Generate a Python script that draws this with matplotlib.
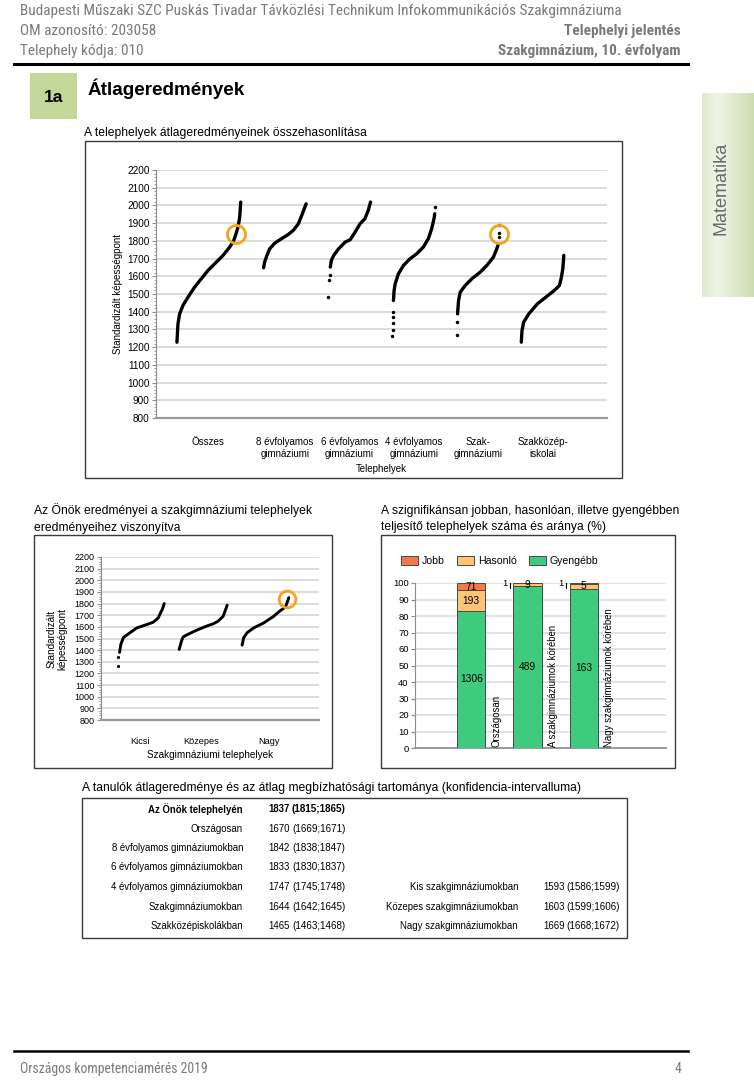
import numpy as np
import matplotlib
matplotlib.use('Agg')
import matplotlib.pyplot as plt
from matplotlib import font_manager
from matplotlib.patches import Rectangle, Patch
from matplotlib.ticker import MultipleLocator

W, H = 754, 1080
names = {f.name for f in font_manager.fontManager.ttflist}
FONT = 'Liberation Sans' if 'Liberation Sans' in names else 'DejaVu Sans'
NARROW = FONT
for cand in ['Liberation Sans Narrow', 'Arial Narrow', 'Roboto Condensed', 'Open Sans Condensed']:
    if cand in names:
        NARROW = cand
        break
HAS_NARROW = NARROW != FONT
plt.rcParams['font.family'] = [FONT, 'DejaVu Sans']

# ---------------- data ----------------
header_school = "Budapesti Műszaki SZC Puskás Tivadar Távközlési Technikum Infokommunikációs Szakgimnáziuma"
header_om = "OM azonosító: 203058"
header_site = "Telephely kódja: 010"
header_report = "Telephelyi jelentés"
header_grade = "Szakgimnázium, 10. évfolyam"
section_no = "1a"
section_title = "Átlageredmények"
subject = "Matematika"
footer_left = "Országos kompetenciamérés 2019"
footer_page = "4"

site_score = 1837

top_title = "A telephelyek átlageredményeinek összehasonlítása"
top_categories = ['Összes', '8 évfolyamos\ngimnáziumi', '6 évfolyamos\ngimnáziumi',
                  '4 évfolyamos\ngimnáziumi', 'Szak-\ngimnáziumi', 'Szakközép-\niskolai']
yticks_score = list(range(800, 2201, 100))

# sorted site means per group: rank percentile -> score
osszes_rank = [0, 1.6, 4.2, 9.4, 17.3, 27.7, 38.2, 48.7, 61.8, 72.3, 82.7, 89.0, 92.1, 95.8, 98.4, 100]
osszes_vals = [1228, 1331, 1388, 1435, 1482, 1539, 1586, 1633, 1680, 1718, 1765, 1802, 1834, 1878, 1934, 2019]
evf8_rank = [0, 2.4, 7.9, 14.3, 26.2, 42.1, 57.9, 69.8, 81.7, 89.7, 100]
evf8_vals = [1648, 1680, 1718, 1755, 1787, 1812, 1836, 1859, 1896, 1944, 2009]
evf6_out_rank = [0, 2.3, 3.9]
evf6_out_vals = [1482, 1580, 1605]
evf6_rank = [5.4, 7.8, 13.2, 24.8, 40.3, 51.9, 63.6, 75.2, 86.8, 94.6, 100]
evf6_vals = [1652, 1689, 1718, 1755, 1793, 1806, 1849, 1896, 1925, 1972, 2019]
evf4_out_rank = [0, 0.5, 0.8, 1.0, 1.6, 100]
evf4_out_vals = [1262, 1294, 1335, 1369, 1397, 1991]
evf4_rank = [2.3, 3.9, 6.3, 14.1, 25.8, 41.4, 57.0, 72.7, 84.4, 92.2, 97.7, 99.5]
evf4_vals = [1463, 1520, 1557, 1614, 1661, 1699, 1727, 1765, 1812, 1868, 1925, 1953]
szak_out_rank = [0, 0.8, 98.8, 99.2, 100]
szak_out_vals = [1266, 1341, 1820, 1845, 1891]
szak_rank = [1.6, 3.9, 7.8, 19.5, 35.2, 54.7, 70.3, 85.9, 93.8, 97.7]
szak_vals = [1388, 1463, 1510, 1548, 1586, 1623, 1661, 1708, 1755, 1783]
szkoz_rank = [0, 1.6, 5.6, 17.6, 37.6, 57.6, 77.6, 89.6, 93.6, 97.6, 100]
szkoz_vals = [1228, 1294, 1341, 1388, 1444, 1482, 1520, 1548, 1586, 1642, 1718]

left_title = "Az Önök eredményei a szakgimnáziumi telephelyek\neredményeihez viszonyítva"
left_categories = ['Kicsi', 'Közepes', 'Nagy']
kicsi_out_rank = [0, 2.1]
kicsi_out_vals = [1264, 1343]
kicsi_rank = [4.3, 7.2, 12.8, 23.4, 41.3, 62.6, 76.6, 87.2, 90.8, 96.6, 100]
kicsi_vals = [1380, 1451, 1509, 1540, 1591, 1620, 1640, 1677, 1709, 1757, 1800]
kozepes_rank = [0, 5.0, 8.3, 18.8, 36.2, 57.0, 70.8, 81.3, 91.7, 95.2, 100]
kozepes_vals = [1406, 1480, 1514, 1537, 1571, 1606, 1626, 1649, 1691, 1729, 1786]
nagy_rank = [0, 3.4, 10.7, 24.9, 46.4, 67.8, 78.5, 92.9, 98.7, 100]
nagy_vals = [1443, 1506, 1549, 1591, 1634, 1691, 1729, 1771, 1834, 1851]

right_title = "A szignifikánsan jobban, hasonlóan, illetve gyengébben\nteljesítő telephelyek száma és aránya (%)"
bar_categories = ['Országosan', 'A szakgimnáziumok körében', 'Nagy szakgimnáziumok körében']
series_names = ['Jobb', 'Hasonló', 'Gyengébb']
jobb_counts = [71, 1, 1]
hasonlo_counts = [193, 9, 5]
gyengebb_counts = [1306, 489, 163]

table_title = "A tanulók átlageredménye és az átlag megbízhatósági tartománya (konfidencia-intervalluma)"
left_labels = ['Az Önök telephelyén', 'Országosan', '8 évfolyamos gimnáziumokban',
               '6 évfolyamos gimnáziumokban', '4 évfolyamos gimnáziumokban',
               'Szakgimnáziumokban', 'Szakközépiskolákban']
left_means = [1837, 1670, 1842, 1833, 1747, 1644, 1465]
left_lo = [1815, 1669, 1838, 1830, 1745, 1642, 1463]
left_hi = [1865, 1671, 1847, 1837, 1748, 1645, 1468]
right_labels = ['Kis szakgimnáziumokban', 'Közepes szakgimnáziumokban', 'Nagy szakgimnáziumokban']
right_means = [1593, 1603, 1669]
right_lo = [1586, 1599, 1668]
right_hi = [1599, 1606, 1672]

# ---------------- figure ----------------
fig = plt.figure(figsize=(W / 100, H / 100), dpi=100)
bg = fig.add_axes([0, 0, 1, 1], zorder=-5)
bg.set_xlim(0, W)
bg.set_ylim(H, 0)
bg.axis('off')


def add_ax(l, t, r, b):
    a = fig.add_axes([l / W, 1 - b / H, (r - l) / W, (b - t) / H])
    a.set_facecolor('none')
    return a


GRAY = '#7a7a7a'
FRAME = '#3a3a3a'
ORANGE = '#F4A31F'

# header
hfam = [NARROW, 'DejaVu Sans']
hs = 9.75
if HAS_NARROW:
    # calibrate the narrow font so the school name spans ~602 px
    from matplotlib.textpath import TextPath
    from matplotlib.font_manager import FontProperties
    tp = TextPath((0, 0), header_school, size=10, prop=FontProperties(family=NARROW))
    wpx = tp.get_extents().width * 100 / 72
    hs = 10 * 602 / wpx
bg.text(20, 11, header_school, fontsize=hs, color=GRAY, family=hfam, va='center')
bg.text(20, 31, header_om, fontsize=hs, color=GRAY, family=hfam, va='center')
bg.text(20, 51, header_site, fontsize=hs, color=GRAY, family=hfam, va='center')
bg.text(681, 31, header_report, fontsize=hs, color=GRAY, family=hfam, va='center', ha='right', fontweight='bold')
bg.text(681, 51, header_grade, fontsize=hs, color=GRAY, family=hfam, va='center', ha='right', fontweight='bold')
bg.plot([14, 688], [64, 64], color='black', lw=2.2)

# section box
bg.add_patch(Rectangle((30, 73), 47, 46, facecolor='#c4d79b', edgecolor='none'))
bg.text(53.5, 97, section_no, fontsize=12.5, fontweight='bold', ha='center', va='center')
bg.text(88, 89, section_title, fontsize=13.6, fontweight='bold', va='center')

# side tab with gradient
side = add_ax(702, 93, 754, 297)
grad = np.linspace(0, 1, 64)
c_left = np.array([0.87, 0.92, 0.81])
c_mid = np.array([0.94, 0.96, 0.90])
c_right = np.array([0.80, 0.87, 0.69])
cols = np.where(grad[:, None] < 0.3,
                c_left + (c_mid - c_left) * (grad[:, None] / 0.3),
                c_mid + (c_right - c_mid) * ((grad[:, None] - 0.3) / 0.7))
side.imshow(cols[None, :, :], aspect='auto', extent=[0, 1, 0, 1])
side.set_xlim(0, 1)
side.set_ylim(0, 1)
side.axis('off')
fig.text(721 / W, 1 - 188 / H, subject, fontsize=13, color='#6a6a6a', rotation=90,
         ha='center', va='center', zorder=10)

# ---------------- top chart ----------------
bg.text(84, 133, top_title, fontsize=8.7, va='center')
bg.add_patch(Rectangle((85, 141), 537, 337, facecolor='none', edgecolor=FRAME, lw=1))
ax1 = add_ax(156, 170, 607, 418)


def style_score_axis(ax, fs):
    ax.set_ylim(800, 2200)
    ax.set_yticks(yticks_score)
    ax.yaxis.set_minor_locator(MultipleLocator(20))
    ax.grid(axis='y', color='#dcdcdc', lw=1.4, zorder=0)
    for s in ['top', 'right']:
        ax.spines[s].set_visible(False)
    ax.spines['left'].set_color('#8c8c8c')
    ax.spines['bottom'].set_color('#9a9a9a')
    ax.spines['bottom'].set_linewidth(1.6)
    ax.tick_params(axis='y', which='major', length=3, width=0.8, color='#8c8c8c', labelsize=fs, pad=1.5)
    ax.tick_params(axis='y', which='minor', length=1.5, width=0.6, color='#8c8c8c')
    ax.tick_params(axis='x', length=0, labelsize=fs)
    ax.set_axisbelow(True)


def draw_group(ax, center, width, ranks, vals, out_ranks=(), out_vals=(), lw=2.4, ms=2.5):
    x = center + (np.asarray(ranks, float) / 100 - 0.5) * width
    ax.plot(x, vals, color='black', lw=lw, solid_capstyle='round', zorder=3)
    if len(out_ranks):
        xo = center + (np.asarray(out_ranks, float) / 100 - 0.5) * width
        ax.plot(xo, out_vals, 'o', ms=ms, color='black', mew=0, zorder=3)


def mark_site(ax, center, width, rank, size=13):
    ax.plot(center + (rank / 100 - 0.5) * width, site_score, 'o', ms=size, mfc='none',
            mec=ORANGE, mew=2, zorder=4)


style_score_axis(ax1, 7.2)
ax1.set_xlim(0, 7)
draw_group(ax1, 0.82, 0.99, osszes_rank, osszes_vals)
draw_group(ax1, 2, 0.66, evf8_rank, evf8_vals)
draw_group(ax1, 3, 0.66, evf6_rank, evf6_vals, evf6_out_rank, evf6_out_vals)
draw_group(ax1, 4, 0.66, evf4_rank, evf4_vals, evf4_out_rank, evf4_out_vals)
draw_group(ax1, 5, 0.66, szak_rank, szak_vals, szak_out_rank, szak_out_vals)
draw_group(ax1, 6, 0.66, szkoz_rank, szkoz_vals)
mark_site(ax1, 0.82, 0.99, 92.1)
mark_site(ax1, 5, 0.66, 99.2)
ax1.set_xticks([0.81, 2, 3, 4, 5, 6])
ax1.set_xticklabels(top_categories, fontsize=7.0, linespacing=1.15, va='top')
ax1.tick_params(axis='x', pad=14)
ax1.set_xlabel('Telephelyek', fontsize=7.0, labelpad=4)
ax1.set_ylabel('Standardizált képességpont', fontsize=7.0, labelpad=3)

# ---------------- bottom-left chart ----------------
bg.text(34, 519, left_title, fontsize=8.7, va='center', linespacing=1.55)
bg.add_patch(Rectangle((34, 535), 298, 233, facecolor='none', edgecolor=FRAME, lw=1))
ax2 = add_ax(101, 557, 319, 720)
style_score_axis(ax2, 6.5)
ax2.set_xlim(0, 3.5)
draw_group(ax2, 0.64, 0.75, kicsi_rank, kicsi_vals, kicsi_out_rank, kicsi_out_vals, lw=2.1, ms=2.3)
draw_group(ax2, 1.64, 0.77, kozepes_rank, kozepes_vals, lw=2.1)
draw_group(ax2, 2.64, 0.75, nagy_rank, nagy_vals, lw=2.1)
mark_site(ax2, 2.64, 0.75, 97.0, size=12)
ax2.set_xticks([0.63, 1.6, 2.7])
ax2.set_xticklabels(left_categories, fontsize=6.6)
ax2.tick_params(axis='x', pad=12)
ax2.set_xlabel('Szakgimnáziumi telephelyek', fontsize=7.2, labelpad=3)
ax2.set_ylabel('Standardizált\nképességpont', fontsize=7.2, labelpad=5, linespacing=1.1)

# ---------------- bottom-right chart ----------------
bg.text(381, 519, right_title, fontsize=8.75, va='center', linespacing=1.55)
bg.add_patch(Rectangle((381, 535), 294, 233, facecolor='none', edgecolor=FRAME, lw=1))
ax3 = add_ax(415, 583, 666, 748)
totals = np.array(jobb_counts) + np.array(hasonlo_counts) + np.array(gyengebb_counts)
p_gy = np.array(gyengebb_counts) / totals * 100
p_ha = np.array(hasonlo_counts) / totals * 100
p_jo = np.array(jobb_counts) / totals * 100
xb = np.arange(1, 4)
bw = 0.5
colors = {'Jobb': '#f4784a', 'Hasonló': '#fcc474', 'Gyengébb': '#3ecb7e'}
ax3.bar(xb, p_gy, bw, color=colors['Gyengébb'], edgecolor='#4a4a4a', lw=0.7, zorder=3)
ax3.bar(xb, p_ha, bw, bottom=p_gy, color=colors['Hasonló'], edgecolor='#4a4a4a', lw=0.7, zorder=3)
ax3.bar(xb, p_jo, bw, bottom=p_gy + p_ha, color=colors['Jobb'], edgecolor='#4a4a4a', lw=0.7, zorder=3)
ax3.set_xlim(0, 4.46)
ax3.set_ylim(0, 100)
ax3.set_yticks(range(0, 101, 10))
ax3.set_xticks([])
ax3.grid(axis='y', color='#dcdcdc', lw=1.2, zorder=0)
ax3.set_axisbelow(True)
for s in ['top', 'right']:
    ax3.spines[s].set_visible(False)
ax3.spines['left'].set_color('#8c8c8c')
ax3.spines['bottom'].set_color('#9a9a9a')
ax3.spines['bottom'].set_linewidth(1.4)
ax3.tick_params(axis='y', length=3, color='#8c8c8c', labelsize=6.8, pad=1.5)
for i in range(3):
    segs = [(p_gy[i] / 2, gyengebb_counts[i], p_gy[i]),
            (p_gy[i] + p_ha[i] / 2, hasonlo_counts[i], p_ha[i]),
            (p_gy[i] + p_ha[i] + p_jo[i] / 2, jobb_counts[i], p_jo[i])]
    for yc, cnt, pct in segs:
        if pct < 1.0:
            xl = xb[i] - bw / 2 - 0.07
            ax3.plot([xl, xl], [97.2, 100], color='black', lw=0.8, clip_on=False, zorder=4)
            ax3.text(xl - 0.04, 100, str(cnt), fontsize=6.8, ha='right', va='center', zorder=4)
        else:
            ax3.text(xb[i], yc, str(cnt), fontsize=7.4, ha='center', va='center', zorder=4)
    ax3.text(xb[i] + 0.45, 0.8, bar_categories[i], rotation=90, fontsize=6.9,
             ha='center', va='bottom', zorder=4)
handles = [Patch(facecolor=colors[n], edgecolor='#4a4a4a', lw=0.7) for n in series_names]
ax3.legend(handles, series_names, ncol=3, frameon=False, fontsize=7.6,
           loc='upper left', bbox_to_anchor=(396 / W, 1 - 551 / H), bbox_transform=fig.transFigure,
           borderpad=0, handlelength=1.6, handleheight=0.85, handletextpad=0.38, columnspacing=1.15)

# ---------------- table ----------------
bg.text(82, 788, table_title, fontsize=8.7, va='center')
bg.add_patch(Rectangle((82, 798), 545, 140, facecolor='none', edgecolor=FRAME, lw=1))
row_y = [809 + 19.5 * i for i in range(7)]
for i, lab in enumerate(left_labels):
    fw = 'bold' if i == 0 else 'normal'
    bg.text(243, row_y[i], lab, fontsize=6.9, ha='right', va='center', fontweight=fw)
    bg.text(268, row_y[i], str(left_means[i]), fontsize=6.9, va='center', fontweight=fw)
    bg.text(292, row_y[i], f"({left_lo[i]};{left_hi[i]})", fontsize=7.1, va='center', fontweight=fw)
for j, lab in enumerate(right_labels):
    r = 4 + j
    bg.text(518, row_y[r], lab, fontsize=6.9, ha='right', va='center')
    bg.text(543, row_y[r], str(right_means[j]), fontsize=6.9, va='center')
    bg.text(566, row_y[r], f"({right_lo[j]};{right_hi[j]})", fontsize=7.1, va='center')

# footer
fs_foot = hs * 0.9 if HAS_NARROW else 8.7
bg.plot([14, 688], [1051, 1051], color='black', lw=1.8)
bg.text(20, 1069, footer_left, fontsize=fs_foot, color=GRAY, family=hfam, va='center')
bg.text(681, 1069, footer_page, fontsize=fs_foot, color=GRAY, family=hfam, va='center', ha='right')

fig.savefig('out.png', dpi=100)
